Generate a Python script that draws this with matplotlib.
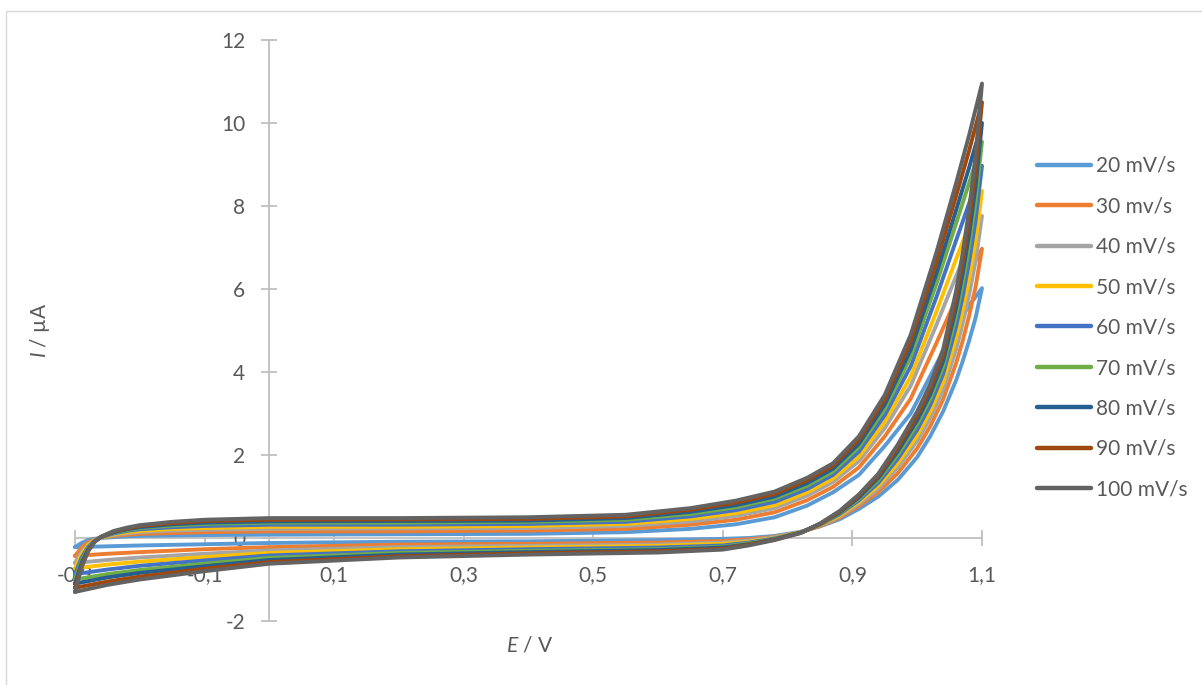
import matplotlib
matplotlib.use("Agg")
import matplotlib.pyplot as plt
from matplotlib.patches import Rectangle

plt.rcParams['font.family'] = ['Lato', 'DejaVu Sans']
plt.rcParams['mathtext.fontset'] = 'custom'
plt.rcParams['mathtext.it'] = 'Lato:italic'
plt.rcParams['mathtext.rm'] = 'Lato'

# ---------------- data ----------------
labels = ["20 mV/s", "30 mv/s", "40 mV/s", "50 mV/s", "60 mV/s",
          "70 mV/s", "80 mV/s", "90 mV/s", "100 mV/s"]
colors = ["#5B9BD5", "#ED7D31", "#A5A5A5", "#FFC000", "#4472C4",
          "#70AD47", "#255E91", "#9E480E", "#636363"]

# forward (anodic) scan potentials, V
E_fwd = [-0.30, -0.29, -0.28, -0.27, -0.26, -0.24, -0.22, -0.20, -0.15, -0.10, 0.00,
         0.20, 0.40, 0.55, 0.65, 0.72, 0.78, 0.83, 0.87, 0.91, 0.95, 0.99,
         1.03, 1.06, 1.08, 1.10]
# reverse scan potentials, V
E_rev = [1.10, 1.09, 1.08, 1.07, 1.06, 1.04, 1.02, 1.00, 0.97, 0.94, 0.91, 0.88,
         0.85, 0.82, 0.78, 0.74, 0.70, 0.60, 0.40, 0.20, 0.00, -0.10, -0.20, -0.25, -0.30]

# currents (uA) on the forward scan
I_fwd_20 = [-0.22, -0.12, -0.05, -0.02, 0.00, 0.02, 0.04, 0.05, 0.06, 0.07, 0.08,
            0.09, 0.10, 0.14, 0.22, 0.33, 0.50, 0.78, 1.10, 1.52, 2.22, 3.00,
            4.20, 5.10, 5.60, 6.02]
I_fwd_30 = [-0.43, -0.23, -0.10, -0.04, 0.01, 0.05, 0.08, 0.10, 0.12, 0.14, 0.16,
            0.16, 0.18, 0.22, 0.32, 0.44, 0.62, 0.91, 1.23, 1.70, 2.45, 3.36,
            4.71, 5.76, 6.38, 6.97]
I_fwd_40 = [-0.60, -0.33, -0.15, -0.05, 0.01, 0.07, 0.11, 0.14, 0.18, 0.20, 0.22,
            0.23, 0.24, 0.29, 0.40, 0.53, 0.72, 1.02, 1.35, 1.85, 2.65, 3.67,
            5.15, 6.31, 7.04, 7.76]
I_fwd_50 = [-0.73, -0.40, -0.18, -0.06, 0.01, 0.09, 0.14, 0.17, 0.22, 0.24, 0.27,
            0.27, 0.29, 0.34, 0.46, 0.60, 0.79, 1.10, 1.43, 1.96, 2.80, 3.89,
            5.47, 6.72, 7.53, 8.36]
I_fwd_60 = [-0.87, -0.48, -0.22, -0.07, 0.02, 0.11, 0.17, 0.21, 0.26, 0.29, 0.32,
            0.32, 0.34, 0.39, 0.52, 0.67, 0.87, 1.18, 1.52, 2.08, 2.96, 4.14,
            5.82, 7.17, 8.06, 8.97]
I_fwd_70 = [-1.00, -0.55, -0.25, -0.08, 0.02, 0.13, 0.19, 0.24, 0.30, 0.34, 0.37,
            0.37, 0.39, 0.44, 0.58, 0.74, 0.95, 1.26, 1.60, 2.19, 3.11, 4.37,
            6.14, 7.58, 8.55, 9.55]
I_fwd_80 = [-1.10, -0.61, -0.28, -0.09, 0.02, 0.14, 0.21, 0.26, 0.33, 0.37, 0.40,
            0.41, 0.42, 0.48, 0.63, 0.79, 1.00, 1.32, 1.67, 2.27, 3.22, 4.54,
            6.39, 7.90, 8.92, 10.00]
I_fwd_90 = [-1.20, -0.67, -0.31, -0.09, 0.03, 0.16, 0.23, 0.29, 0.36, 0.41, 0.44,
            0.45, 0.46, 0.52, 0.68, 0.85, 1.06, 1.39, 1.74, 2.37, 3.34, 4.73,
            6.66, 8.24, 9.33, 10.50]
I_fwd_100 = [-1.30, -0.72, -0.33, -0.10, 0.03, 0.17, 0.25, 0.31, 0.39, 0.44, 0.48,
             0.48, 0.50, 0.56, 0.72, 0.90, 1.12, 1.45, 1.80, 2.45, 3.45, 4.90,
             6.90, 8.55, 9.70, 10.95]

# currents (uA) on the reverse scan
I_rev_20 = [6.02, 5.30, 4.75, 4.25, 3.80, 3.05, 2.45, 1.95, 1.40, 1.00, 0.70, 0.45,
            0.28, 0.15, 0.05, 0.00, -0.02, -0.05, -0.08, -0.09, -0.12, -0.15, -0.18, -0.20, -0.22]
I_rev_30 = [6.97, 6.04, 5.35, 4.74, 4.21, 3.34, 2.69, 2.16, 1.56, 1.11, 0.77, 0.49,
            0.29, 0.14, 0.03, -0.03, -0.07, -0.11, -0.14, -0.16, -0.22, -0.27, -0.34, -0.38, -0.43]
I_rev_40 = [7.76, 6.67, 5.85, 5.16, 4.55, 3.57, 2.89, 2.34, 1.70, 1.19, 0.82, 0.52,
            0.31, 0.14, 0.02, -0.06, -0.11, -0.16, -0.19, -0.22, -0.30, -0.38, -0.47, -0.53, -0.60]
I_rev_50 = [8.36, 7.13, 6.23, 5.47, 4.81, 3.76, 3.04, 2.47, 1.80, 1.26, 0.87, 0.54,
            0.31, 0.14, 0.00, -0.09, -0.14, -0.19, -0.23, -0.27, -0.36, -0.46, -0.57, -0.64, -0.73]
I_rev_60 = [8.97, 7.64, 6.64, 5.81, 5.09, 3.95, 3.20, 2.61, 1.91, 1.33, 0.91, 0.57,
            0.32, 0.13, -0.01, -0.11, -0.18, -0.23, -0.27, -0.32, -0.42, -0.54, -0.67, -0.76, -0.87]
I_rev_70 = [9.55, 8.11, 7.02, 6.12, 5.35, 4.13, 3.35, 2.74, 2.01, 1.40, 0.95, 0.59,
            0.33, 0.13, -0.02, -0.13, -0.21, -0.27, -0.31, -0.36, -0.48, -0.62, -0.77, -0.87, -1.00]
I_rev_80 = [10.00, 8.46, 7.30, 6.36, 5.54, 4.26, 3.46, 2.84, 2.09, 1.45, 0.98, 0.61,
            0.34, 0.13, -0.03, -0.15, -0.23, -0.29, -0.34, -0.40, -0.53, -0.68, -0.84, -0.95, -1.10]
I_rev_90 = [10.50, 8.85, 7.62, 6.62, 5.76, 4.42, 3.59, 2.95, 2.17, 1.50, 1.02, 0.63,
            0.34, 0.12, -0.04, -0.16, -0.26, -0.32, -0.37, -0.44, -0.58, -0.74, -0.93, -1.05, -1.20]
I_rev_100 = [10.95, 9.20, 7.90, 6.85, 5.95, 4.55, 3.70, 3.05, 2.25, 1.55, 1.05, 0.65,
             0.35, 0.12, -0.05, -0.18, -0.28, -0.35, -0.40, -0.47, -0.62, -0.80, -1.00, -1.13, -1.30]

I_fwd = [I_fwd_20, I_fwd_30, I_fwd_40, I_fwd_50, I_fwd_60, I_fwd_70, I_fwd_80, I_fwd_90, I_fwd_100]
I_rev = [I_rev_20, I_rev_30, I_rev_40, I_rev_50, I_rev_60, I_rev_70, I_rev_80, I_rev_90, I_rev_100]

x_ticks = [-0.3, -0.1, 0.1, 0.3, 0.5, 0.7, 0.9, 1.1]
x_ticklabels = ["-0,3", "-0,1", "0,1", "0,3", "0,5", "0,7", "0,9", "1,1"]
y_ticks = [-2, 0, 2, 4, 6, 8, 10, 12]
y_ticklabels = ["-2", "0", "2", "4", "6", "8", "10", "12"]

# ---------------- figure ----------------
W, H = 1202, 685
fig = plt.figure(figsize=(W / 100, H / 100), dpi=100)
fig.patch.set_facecolor("white")
fig.patches.append(Rectangle((6 / W, -0.1), 1.2, (H - 11) / H + 0.1, transform=fig.transFigure,
                             fill=False, edgecolor="#d9d9d9", linewidth=1.0))

ax = fig.add_axes([75 / W, 64 / H, 907 / W, 581 / H])
ax.set_facecolor("none")

for lab, col, fw, rv in zip(labels, colors, I_fwd, I_rev):
    ax.plot(E_fwd + E_rev, fw + rv, color=col, lw=2.8, label=lab,
            solid_joinstyle="round", solid_capstyle="round", clip_on=False, zorder=3)

ax.set_xlim(-0.3, 1.1)
ax.set_ylim(-2, 12)

for s in ["top", "right"]:
    ax.spines[s].set_visible(False)
ax.spines["left"].set_position(("data", 0))
ax.spines["bottom"].set_position(("data", 0))
for s in ["left", "bottom"]:
    ax.spines[s].set_color("#bfbfbf")
    ax.spines[s].set_linewidth(1.3)
    ax.spines[s].set_zorder(1)

ax.set_xticks(x_ticks)
ax.set_xticklabels(x_ticklabels)
ax.set_yticks(y_ticks)
ax.set_yticklabels(y_ticklabels)
ax.tick_params(axis="both", direction="inout", length=11, width=1.3, color="#bfbfbf",
               labelcolor="#595959", labelsize=15)
ax.tick_params(axis="x", pad=14)
ax.tick_params(axis="y", pad=12)

fig.text(530 / W, 1 - 645 / H, r"$E$ / V", ha="center", va="center", fontsize=15, color="#595959")
fig.text(40 / W, 1 - 330 / H, r"$I$ / µA", ha="center", va="center", rotation=90,
         fontsize=15, color="#595959")

leg = ax.legend(loc="upper left", bbox_to_anchor=(1037 / W, 1 - 156 / H),
                bbox_transform=fig.transFigure, frameon=False, fontsize=15,
                handlelength=2.6, handletextpad=0.25, labelspacing=0.98,
                borderpad=0, borderaxespad=0)
for t in leg.get_texts():
    t.set_color("#595959")
for h in leg.get_lines():
    h.set_linewidth(3.2)

fig.savefig("out.png", dpi=100)
